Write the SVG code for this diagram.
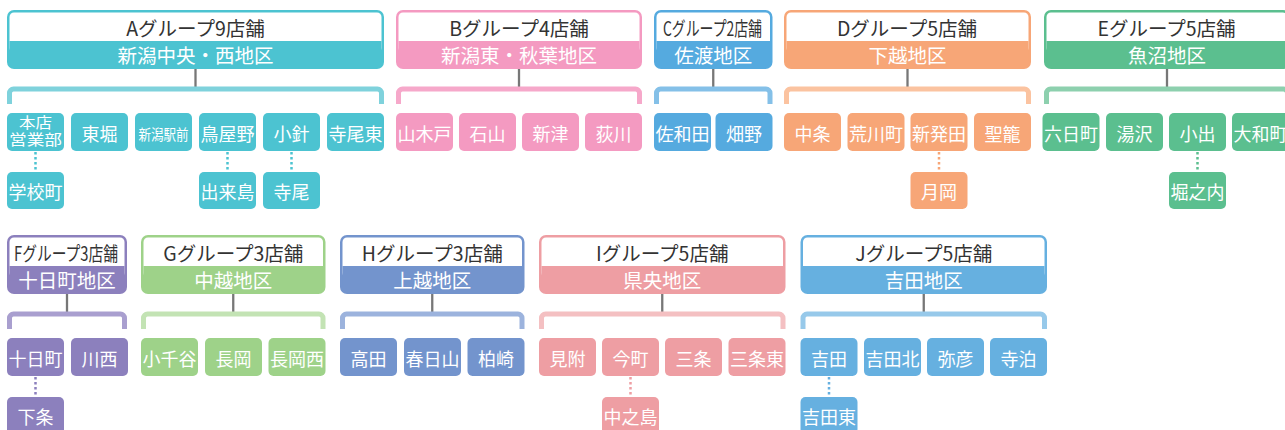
<svg xmlns="http://www.w3.org/2000/svg" width="1285" height="430" viewBox="0 0 1285 430">
<style>
text{font-family:"Noto Sans CJK JP","Noto Sans",sans-serif;text-anchor:middle}
.h{font-size:19.5px;fill:#333}
.b{font-size:19.5px;fill:#fff}
.l{font-size:18px;fill:#fff}
.w{fill:#fff}
.lk{stroke:#777;stroke-width:2.3}
.br{fill:none;stroke-width:5}
.dt{stroke-width:2.5;stroke-dasharray:2.5 2.5}
.A{fill:#4cc3d1}.bA{stroke:#7fd2dc}.dA{stroke:#4cc3d1}
.B{fill:#f49ac1}.bB{stroke:#f6a8ca}.dB{stroke:#f49ac1}
.C{fill:#55aadf}.bC{stroke:#84c0e8}.dC{stroke:#55aadf}
.D{fill:#f7a677}.bD{stroke:#fbc3a0}.dD{stroke:#f7a677}
.E{fill:#5bbf8f}.bE{stroke:#8dd0ae}.dE{stroke:#5bbf8f}
.F{fill:#8c80bd}.bF{stroke:#a99fcf}.dF{stroke:#8c80bd}
.G{fill:#9ed289}.bG{stroke:#c3e3b4}.dG{stroke:#9ed289}
.H{fill:#7394cd}.bH{stroke:#9cb3dd}.dH{stroke:#7394cd}
.I{fill:#ee9ea3}.bI{stroke:#f4c0c2}.dI{stroke:#ee9ea3}
.J{fill:#66b0e0}.bJ{stroke:#97c9ea}.dJ{stroke:#66b0e0}
</style>

<g id="connectors">
  <line class="lk" x1="195.5" y1="69" x2="195.5" y2="87"/>
  <path class="br bA" d="M9.5 104V93A4 4 0 0 1 13.5 89H377.5A4 4 0 0 1 381.5 93V104"/>
  <line class="dt dA" x1="35.5" y1="152" x2="35.5" y2="172"/>
  <line class="dt dA" x1="227.5" y1="152" x2="227.5" y2="172"/>
  <line class="dt dA" x1="291.5" y1="152" x2="291.5" y2="172"/>

  <line class="lk" x1="519" y1="69" x2="519" y2="87"/>
  <path class="br bB" d="M398.5 104V93A4 4 0 0 1 402.5 89H635.5A4 4 0 0 1 639.5 93V104"/>

  <line class="lk" x1="713.25" y1="69" x2="713.25" y2="87"/>
  <path class="br bC" d="M656.5 104V93A4 4 0 0 1 660.5 89H766A4 4 0 0 1 770 93V104"/>

  <line class="lk" x1="907.5" y1="69" x2="907.5" y2="87"/>
  <path class="br bD" d="M786.5 104V93A4 4 0 0 1 790.5 89H1024.5A4 4 0 0 1 1028.5 93V104"/>
  <line class="dt dD" x1="939" y1="152" x2="939" y2="172"/>

  <line class="lk" x1="1167" y1="69" x2="1167" y2="87"/>
  <path class="br bE" d="M1046.5 104V93A4 4 0 0 1 1050.5 89H1283.5A4 4 0 0 1 1287.5 93V104"/>
  <line class="dt dE" x1="1197.5" y1="152" x2="1197.5" y2="172"/>

  <line class="lk" x1="67" y1="294" x2="67" y2="312"/>
  <path class="br bF" d="M9.5 329V318A4 4 0 0 1 13.5 314H120.5A4 4 0 0 1 124.5 318V329"/>
  <line class="dt dF" x1="35.5" y1="377" x2="35.5" y2="397"/>

  <line class="lk" x1="233.25" y1="294" x2="233.25" y2="312"/>
  <path class="br bG" d="M143.5 329V318A4 4 0 0 1 147.5 314H319A4 4 0 0 1 323 318V329"/>

  <line class="lk" x1="432.25" y1="294" x2="432.25" y2="312"/>
  <path class="br bH" d="M342.5 329V318A4 4 0 0 1 346.5 314H518A4 4 0 0 1 522 318V329"/>

  <line class="lk" x1="662.25" y1="294" x2="662.25" y2="312"/>
  <path class="br bI" d="M541.5 329V318A4 4 0 0 1 545.5 314H779A4 4 0 0 1 783 318V329"/>
  <line class="dt dI" x1="630.5" y1="377" x2="630.5" y2="397"/>

  <line class="lk" x1="923.75" y1="294" x2="923.75" y2="312"/>
  <path class="br bJ" d="M803 329V318A4 4 0 0 1 807 314H1040.5A4 4 0 0 1 1044.5 318V329"/>
  <line class="dt dJ" x1="829" y1="377" x2="829" y2="397"/>
</g>

<!-- Group A -->
<g id="groupA">
  <rect class="A" x="7" y="10" width="377" height="59" rx="7"/>
  <rect class="w" x="9.5" y="12.5" width="372" height="40" rx="4.5"/>
  <rect class="A" x="9.5" y="41" width="372" height="20"/>
  <text class="h" x="195.5" y="35.5">Aグループ9店舗</text>
  <text class="b" x="195.5" y="62.5">新潟中央・西地区</text>
</g>
<g id="A1"><rect class="A" x="7" y="113" width="57" height="38" rx="5"/><text class="l" x="35.5" y="128" style="font-size:14.5px" textLength="33" lengthAdjust="spacingAndGlyphs">本店</text><text class="l" x="35.5" y="145" style="font-size:14.5px" textLength="53" lengthAdjust="spacingAndGlyphs">営業部</text></g>
<g id="A2"><rect class="A" x="71" y="113" width="57" height="38" rx="5"/><text class="l" x="99.5" y="140.5">東堀</text></g>
<g id="A3"><rect class="A" x="135" y="113" width="57" height="38" rx="5"/><text class="l" x="163.5" y="139.5" style="font-size:15px" textLength="50" lengthAdjust="spacingAndGlyphs">新潟駅前</text></g>
<g id="A4"><rect class="A" x="199" y="113" width="57" height="38" rx="5"/><text class="l" x="227.5" y="140.5">鳥屋野</text></g>
<g id="A5"><rect class="A" x="263" y="113" width="57" height="38" rx="5"/><text class="l" x="291.5" y="140.5">小針</text></g>
<g id="A6"><rect class="A" x="327" y="113" width="57" height="38" rx="5"/><text class="l" x="355.5" y="140.5">寺尾東</text></g>
<g id="A1s"><rect class="A" x="7" y="172" width="57" height="37" rx="5"/><text class="l" x="35.5" y="199">学校町</text></g>
<g id="A4s"><rect class="A" x="199" y="172" width="57" height="37" rx="5"/><text class="l" x="227.5" y="199">出来島</text></g>
<g id="A5s"><rect class="A" x="263" y="172" width="57" height="37" rx="5"/><text class="l" x="291.5" y="199">寺尾</text></g>

<!-- Group B -->
<g id="groupB">
  <rect class="B" x="396" y="10" width="246" height="59" rx="7"/>
  <rect class="w" x="398.5" y="12.5" width="241" height="40" rx="4.5"/>
  <rect class="B" x="398.5" y="41" width="241" height="20"/>
  <text class="h" x="519" y="35.5">Bグループ4店舗</text>
  <text class="b" x="519" y="62.5">新潟東・秋葉地区</text>
</g>
<g id="B1"><rect class="B" x="396" y="113" width="57" height="38" rx="5"/><text class="l" x="424.5" y="140.5">山木戸</text></g>
<g id="B2"><rect class="B" x="459" y="113" width="57" height="38" rx="5"/><text class="l" x="487.5" y="140.5">石山</text></g>
<g id="B3"><rect class="B" x="522" y="113" width="57" height="38" rx="5"/><text class="l" x="550.5" y="140.5">新津</text></g>
<g id="B4"><rect class="B" x="585" y="113" width="57" height="38" rx="5"/><text class="l" x="613.5" y="140.5">荻川</text></g>

<!-- Group C -->
<g id="groupC">
  <rect class="C" x="654" y="10" width="118.5" height="59" rx="7"/>
  <rect class="w" x="656.5" y="12.5" width="113.5" height="40" rx="4.5"/>
  <rect class="C" x="656.5" y="41" width="113.5" height="20"/>
  <text class="h" x="712.5" y="35.5" textLength="99" lengthAdjust="spacingAndGlyphs">Cグループ2店舗</text>
  <text class="b" x="713.25" y="62.5">佐渡地区</text>
</g>
<g id="C1"><rect class="C" x="654" y="113" width="57" height="38" rx="5"/><text class="l" x="682.5" y="140.5">佐和田</text></g>
<g id="C2"><rect class="C" x="715.5" y="113" width="57" height="38" rx="5"/><text class="l" x="744" y="140.5">畑野</text></g>

<!-- Group D -->
<g id="groupD">
  <rect class="D" x="784" y="10" width="247" height="59" rx="7"/>
  <rect class="w" x="786.5" y="12.5" width="242" height="40" rx="4.5"/>
  <rect class="D" x="786.5" y="41" width="242" height="20"/>
  <text class="h" x="907" y="35.5">Dグループ5店舗</text>
  <text class="b" x="907.5" y="62.5">下越地区</text>
</g>
<g id="D1"><rect class="D" x="784" y="113" width="57" height="38" rx="5"/><text class="l" x="812.5" y="140.5">中条</text></g>
<g id="D2"><rect class="D" x="847.5" y="113" width="57" height="38" rx="5"/><text class="l" x="876" y="140.5">荒川町</text></g>
<g id="D3"><rect class="D" x="910.5" y="113" width="57" height="38" rx="5"/><text class="l" x="939" y="140.5">新発田</text></g>
<g id="D4"><rect class="D" x="974" y="113" width="57" height="38" rx="5"/><text class="l" x="1002.5" y="140.5">聖籠</text></g>
<g id="D3s"><rect class="D" x="910.5" y="172" width="57" height="37" rx="5"/><text class="l" x="939" y="199">月岡</text></g>

<!-- Group E -->
<g id="groupE">
  <rect class="E" x="1044" y="10" width="246" height="59" rx="7"/>
  <rect class="w" x="1046.5" y="12.5" width="241" height="40" rx="4.5"/>
  <rect class="E" x="1046.5" y="41" width="241" height="20"/>
  <text class="h" x="1166.5" y="35.5">Eグループ5店舗</text>
  <text class="b" x="1167" y="62.5">魚沼地区</text>
</g>
<g id="E1"><rect class="E" x="1042.5" y="113" width="57" height="38" rx="5"/><text class="l" x="1071" y="140.5">六日町</text></g>
<g id="E2"><rect class="E" x="1106" y="113" width="57" height="38" rx="5"/><text class="l" x="1134.5" y="140.5">湯沢</text></g>
<g id="E3"><rect class="E" x="1169" y="113" width="57" height="38" rx="5"/><text class="l" x="1197.5" y="140.5">小出</text></g>
<g id="E4"><rect class="E" x="1232" y="113" width="57" height="38" rx="5"/><text class="l" x="1260.5" y="140.5">大和町</text></g>
<g id="E3s"><rect class="E" x="1169" y="172" width="57" height="37" rx="5"/><text class="l" x="1197.5" y="199">堀之内</text></g>

<!-- Group F -->
<g id="groupF">
  <rect class="F" x="7" y="235" width="120" height="59" rx="7"/>
  <rect class="w" x="9.5" y="237.5" width="115" height="40" rx="4.5"/>
  <rect class="F" x="9.5" y="266" width="115" height="20"/>
  <text class="h" x="66" y="260.5" textLength="104" lengthAdjust="spacingAndGlyphs">Fグループ3店舗</text>
  <text class="b" x="67" y="287.5">十日町地区</text>
</g>
<g id="F1"><rect class="F" x="7" y="338" width="57" height="38" rx="5"/><text class="l" x="35.5" y="365.5">十日町</text></g>
<g id="F2"><rect class="F" x="71" y="338" width="57" height="38" rx="5"/><text class="l" x="99.5" y="365.5">川西</text></g>
<g id="F1s"><rect class="F" x="7" y="397" width="57" height="37" rx="5"/><text class="l" x="35.5" y="424">下条</text></g>

<!-- Group G -->
<g id="groupG">
  <rect class="G" x="141" y="235" width="184.5" height="59" rx="7"/>
  <rect class="w" x="143.5" y="237.5" width="179.5" height="40" rx="4.5"/>
  <rect class="G" x="143.5" y="266" width="179.5" height="20"/>
  <text class="h" x="233.25" y="260.5">Gグループ3店舗</text>
  <text class="b" x="233.25" y="287.5">中越地区</text>
</g>
<g id="G1"><rect class="G" x="141" y="338" width="57" height="38" rx="5"/><text class="l" x="169.5" y="365.5">小千谷</text></g>
<g id="G2"><rect class="G" x="205" y="338" width="57" height="38" rx="5"/><text class="l" x="233.5" y="365.5">長岡</text></g>
<g id="G3"><rect class="G" x="268.5" y="338" width="57" height="38" rx="5"/><text class="l" x="297" y="365.5">長岡西</text></g>

<!-- Group H -->
<g id="groupH">
  <rect class="H" x="340" y="235" width="184.5" height="59" rx="7"/>
  <rect class="w" x="342.5" y="237.5" width="179.5" height="40" rx="4.5"/>
  <rect class="H" x="342.5" y="266" width="179.5" height="20"/>
  <text class="h" x="432.25" y="260.5">Hグループ3店舗</text>
  <text class="b" x="432.25" y="287.5">上越地区</text>
</g>
<g id="H1"><rect class="H" x="340" y="338" width="57" height="38" rx="5"/><text class="l" x="368.5" y="365.5">高田</text></g>
<g id="H2"><rect class="H" x="404" y="338" width="57" height="38" rx="5"/><text class="l" x="432.5" y="365.5">春日山</text></g>
<g id="H3"><rect class="H" x="467.5" y="338" width="57" height="38" rx="5"/><text class="l" x="496" y="365.5">柏崎</text></g>

<!-- Group I -->
<g id="groupI">
  <rect class="I" x="539" y="235" width="246.5" height="59" rx="7"/>
  <rect class="w" x="541.5" y="237.5" width="241.5" height="40" rx="4.5"/>
  <rect class="I" x="541.5" y="266" width="241.5" height="20"/>
  <text class="h" x="662.25" y="260.5">Iグループ5店舗</text>
  <text class="b" x="662.25" y="287.5">県央地区</text>
</g>
<g id="I1"><rect class="I" x="539" y="338" width="57" height="38" rx="5"/><text class="l" x="567.5" y="365.5">見附</text></g>
<g id="I2"><rect class="I" x="602" y="338" width="57" height="38" rx="5"/><text class="l" x="630.5" y="365.5">今町</text></g>
<g id="I3"><rect class="I" x="665" y="338" width="57" height="38" rx="5"/><text class="l" x="693.5" y="365.5">三条</text></g>
<g id="I4"><rect class="I" x="728.5" y="338" width="57" height="38" rx="5"/><text class="l" x="757" y="365.5">三条東</text></g>
<g id="I2s"><rect class="I" x="602" y="397" width="57" height="37" rx="5"/><text class="l" x="630.5" y="424">中之島</text></g>

<!-- Group J -->
<g id="groupJ">
  <rect class="J" x="800.5" y="235" width="246.5" height="59" rx="7"/>
  <rect class="w" x="803" y="237.5" width="241.5" height="40" rx="4.5"/>
  <rect class="J" x="803" y="266" width="241.5" height="20"/>
  <text class="h" x="923.75" y="260.5">Jグループ5店舗</text>
  <text class="b" x="923.75" y="287.5">吉田地区</text>
</g>
<g id="J1"><rect class="J" x="800.5" y="338" width="57" height="38" rx="5"/><text class="l" x="829" y="365.5">吉田</text></g>
<g id="J2"><rect class="J" x="864" y="338" width="57" height="38" rx="5"/><text class="l" x="892.5" y="365.5">吉田北</text></g>
<g id="J3"><rect class="J" x="927" y="338" width="57" height="38" rx="5"/><text class="l" x="955.5" y="365.5">弥彦</text></g>
<g id="J4"><rect class="J" x="990" y="338" width="57" height="38" rx="5"/><text class="l" x="1018.5" y="365.5">寺泊</text></g>
<g id="J1s"><rect class="J" x="800.5" y="397" width="57" height="37" rx="5"/><text class="l" x="829" y="424">吉田東</text></g>
</svg>
